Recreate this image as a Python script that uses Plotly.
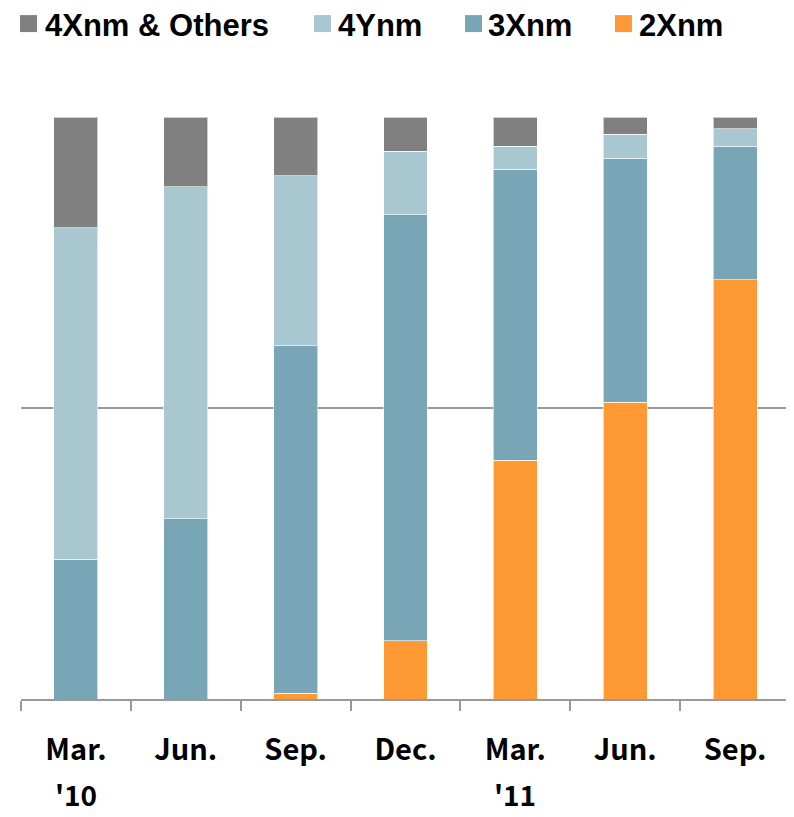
import plotly.graph_objects as go

categories = ["Mar.", "Jun.", "Sep.", "Dec.", "Mar. ", "Jun. ", "Sep. "]
tick_labels = ["Mar.", "Jun.", "Sep.", "Dec.", "Mar.", "Jun.", "Sep."]
year_labels = {"Mar.": "'10", "Mar. ": "'11"}

s_2x = [0, 0, 1, 10, 41, 51, 72]
s_3x = [24, 31, 59.7, 73.2, 50, 41.9, 23]
s_4y = [57, 57, 29.2, 10.9, 4, 4.1, 3]
s_oth = [19, 12, 10.1, 5.9, 5, 3, 2]

series = [
    ("2Xnm", s_2x, "#FF9933"),
    ("3Xnm", s_3x, "#78A6B6"),
    ("4Ynm", s_4y, "#A9C7D0"),
    ("4Xnm & Others", s_oth, "#808080"),
]
# legend order (left to right) and placement (paper coordinates)
legend_order = ["4Xnm & Others", "4Ynm", "3Xnm", "2Xnm"]
legend_swatch_x = [-0.0013, 0.3810, 0.5774, 0.7724]
swatch_w = 0.0221
legend_text_x = [0.0290, 0.4100, 0.6051, 0.8014]
legend_y = 1.1571
swatch_y = (1.1459, 1.1751)

fig = go.Figure()
for name, vals, col in series:
    fig.add_trace(go.Bar(
        x=categories, y=vals, name=name, showlegend=False,
        marker=dict(color=col, line=dict(color="rgba(255,255,255,0.6)", width=1)),
        width=0.4,
    ))

colors = {n: c for n, _, c in series}
for i, name in enumerate(legend_order):
    fig.add_shape(type="rect", xref="paper", yref="paper",
                  x0=legend_swatch_x[i], x1=legend_swatch_x[i] + swatch_w,
                  y0=swatch_y[0], y1=swatch_y[1],
                  fillcolor=colors[name], line=dict(width=0))
    fig.add_annotation(x=legend_text_x[i], xref="paper", y=legend_y, yref="paper",
                       text=f"<b>{name}</b>", showarrow=False,
                       xanchor="left", yanchor="middle",
                       font=dict(family="Liberation Sans", size=31, color="#000000"))

for cat, yr in year_labels.items():
    fig.add_annotation(x=cat, xref="x", y=-0.1639, yref="paper", text=yr,
                       showarrow=False, yanchor="middle",
                       font=dict(family="Noto Sans CJK KR", size=28, color="#000000", weight="bold"))

fig.update_layout(
    barmode="stack",
    width=794, height=817,
    margin=dict(l=13, r=12, t=109, b=125.5, autoexpand=False),
    plot_bgcolor="white", paper_bgcolor="white",
    showlegend=False,
    xaxis=dict(tickmode="array", tickvals=categories, ticktext=tick_labels,
               tickson="boundaries", ticks="outside", ticklen=10, tickcolor="#999999",
               tickwidth=2, showline=True, linecolor="#999999", linewidth=2,
               ticklabelstandoff=24, automargin=False,
               tickfont=dict(family="Noto Sans CJK KR", size=29, color="#000000", weight="bold"),
               showgrid=False),
    yaxis=dict(range=[0, 100], dtick=50, showticklabels=False, showgrid=True,
               gridcolor="#999999", gridwidth=2, zeroline=False, automargin=False),
)

fig.write_html("out.html")
